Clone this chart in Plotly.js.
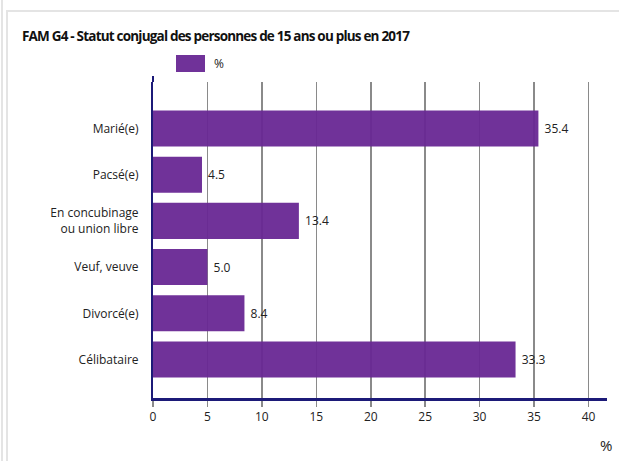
<!DOCTYPE html>
<html>
<head>
<meta charset="utf-8">
<script src="https://cdn.plot.ly/plotly-3.0.1.min.js"></script>
<style>
html,body{margin:0;padding:0;background:#fff;}
#wrap{position:relative;width:619px;height:461px;overflow:hidden;}
#b1{position:absolute;left:1px;top:0;width:2px;height:461px;background:#e4e4e4;}
#b2{position:absolute;left:6px;top:10px;width:613px;height:451px;border-left:2px solid #e4e4e4;border-top:2px solid #e4e4e4;}
#chart{position:absolute;left:0;top:0;width:619px;height:461px;}
#chart .gtitle{letter-spacing:-0.8px;}
</style>
</head>
<body>
<div id="wrap">
<div id="b1"></div>
<div id="b2"></div>
<div id="chart"></div>
</div>
<script>
const categories = ["Marié(e)", "Pacsé(e)", "En concubinage<br>ou union libre", "Veuf, veuve", "Divorcé(e)", "Célibataire"];
const values = [35.4, 4.5, 13.4, 5.0, 8.4, 33.3];
const seriesName = "%";
const xTicks = [0, 5, 10, 15, 20, 25, 30, 35, 40];

const font = "'Open Sans', 'Noto Sans', sans-serif";
const purple = "#682793";

const trace = {
  type: "bar",
  orientation: "h",
  y: categories,
  x: values,
  name: seriesName,
  text: values.map(v => "\u00a0" + v.toFixed(1)),
  textposition: "outside",
  cliponaxis: false,
  textfont: {family: font, size: 12, color: "#222"},
  marker: {color: purple, opacity: 0.95},
  hoverinfo: "x+y",
  showlegend: false
};

const layout = {
  width: 619, height: 461,
  paper_bgcolor: "rgba(0,0,0,0)",
  plot_bgcolor: "rgba(0,0,0,0)",
  margin: {l: 153, r: 12, t: 82, b: 63, pad: 0},
  font: {family: font, size: 12, color: "#222"},
  title: {
    text: "<b>FAM G4 - Statut conjugal des personnes de 15 ans ou plus en 2017</b>",
    font: {family: font, size: 13.5, color: "#111"},
    x: 22/619, xanchor: "left", xref: "container",
    y: 1 - 36/461, yanchor: "middle", yref: "container"
  },
  bargap: 0.22,
  xaxis: {
    range: [0, 41.7],
    tickvals: xTicks,
    ticktext: xTicks.map(String),
    showgrid: true,
    gridcolor: "#8a8a8a",
    gridwidth: 1.5,
    zeroline: false,
    showline: true,
    linecolor: "#1c1a78",
    linewidth: 2.5,
    ticks: "outside",
    ticklen: 6,
    tickcolor: "#8a8a8a",
    tickwidth: 1.5,
    tickfont: {family: font, size: 12, color: "#222"},
    fixedrange: true
  },
  yaxis: {
    type: "category",
    categoryorder: "array",
    categoryarray: categories,
    range: [5.833, -1.006],
    showgrid: false,
    zeroline: false,
    showline: true,
    linecolor: "#1c1a78",
    linewidth: 2,
    ticks: "",
    ticklabelstandoff: 10,
    tickfont: {family: font, size: 12, color: "#222"},
    fixedrange: true
  },
  shapes: [
    {type: "line", xref: "paper", yref: "paper", x0: 0, x1: 0, y0: 1, y1: 1 + 6/316,
     line: {color: "#1c1a78", width: 2}},
    {type: "rect", xref: "paper", yref: "paper",
     x0: (176-153)/454, x1: (205-153)/454, y0: 1 + (82-72)/316, y1: 1 + (82-55)/316,
     fillcolor: purple, opacity: 0.95, line: {width: 0}}
  ],
  annotations: [
    {text: seriesName, xref: "paper", yref: "paper", x: (212-153)/454, y: 1 + (82-64)/316,
     xanchor: "left", yanchor: "middle", showarrow: false,
     font: {family: font, size: 12, color: "#222"}},
    {text: "%", xref: "paper", yref: "paper", x: (614-153)/454, y: -(445-398)/316,
     xanchor: "right", yanchor: "middle", showarrow: false,
     font: {family: font, size: 15, color: "#222"}}
  ]
};

Plotly.newPlot("chart", [trace], layout, {displayModeBar: false, staticPlot: true});
</script>
</body>
</html>
